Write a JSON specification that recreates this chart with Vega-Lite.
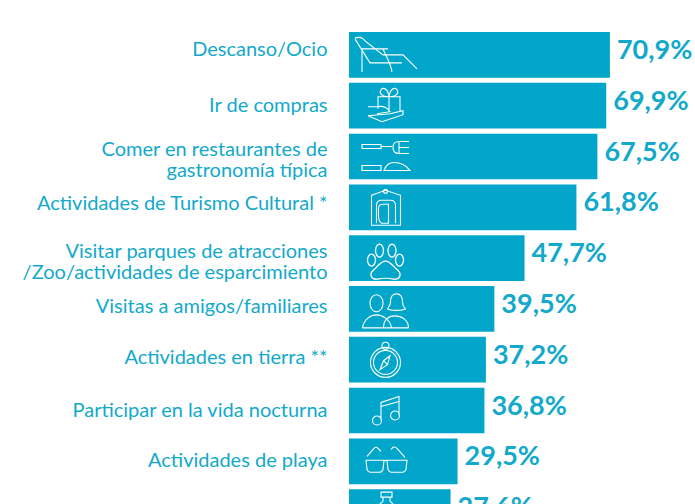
{"$schema":"https://vega.github.io/schema/vega-lite/v6.json","width":346,"height":508,"autosize":"none","padding":{"left":349,"top":29.5,"right":0,"bottom":0},"background":"white","view":{"stroke":null},
"datasets":{"rows":[
{"a":"Descanso/Ocio","v":70.9,"t":"70,9%"},
{"a":"Ir de compras","v":69.9,"t":"69,9%"},
{"a":"Comer en restaurantes de|gastronomía típica","v":67.5,"t":"67,5%"},
{"a":"Actividades de Turismo Cultural *","v":61.8,"t":"61,8%"},
{"a":"Visitar parques de atracciones|/Zoo/actividades de esparcimiento","v":47.7,"t":"47,7%"},
{"a":"Visitas a amigos/familiares","v":39.5,"t":"39,5%"},
{"a":"Actividades en tierra **","v":37.2,"t":"37,2%"},
{"a":"Participar en la vida nocturna","v":36.8,"t":"36,8%"},
{"a":"Actividades de playa","v":29.5,"t":"29,5%"},
{"a":"Otras actividades","v":27.6,"t":"27,6%"}]},
"data":{"name":"rows"},
"encoding":{"y":{"field":"a","type":"nominal","sort":null,"scale":{"paddingInner":0.1,"paddingOuter":0.05},"axis":{"title":null,"domain":false,"ticks":false,"labelPadding":22,"labelLimit":0,"labelFont":"Lato","labelFontSize":20,"labelLineHeight":21,"labelColor":"#12a9cb","labelOffset":{"condition":[{"test":"indexof(datum.value,'Descanso')>=0","value":-4.5},{"test":"indexof(datum.value,'Comer')>=0","value":-7},{"test":"indexof(datum.value,'Visitar')>=0","value":-6},{"test":"indexof(datum.value,'Turismo')>=0","value":-3},{"test":"indexof(datum.value,'Visitas')>=0","value":-2},{"test":"indexof(datum.value,'tierra')>=0","value":-2}],"value":0},"labelExpr":"split(datum.label,'|')"}}},
"layer":[
{"mark":{"type":"bar","color":"#01a6ca"},"encoding":{"x":{"field":"v","type":"quantitative","scale":{"domain":[0,94.02],"nice":false},"axis":null}}},
{"mark":{"type":"text","align":"left","baseline":"middle","dx":7,"dy":-4,"font":"Lato","fontWeight":"bold","fontSize":27,"color":"#12a9cb"},"encoding":{"x":{"field":"v","type":"quantitative"},"text":{"field":"t"}}},
{"transform":[{"filter":"datum.v==70.9"}],"mark":{"type":"point","filled":false,"stroke":"white","strokeWidth":1.1,"opacity":1,"size":4,"xOffset":36,"shape":"M-30,-16 L-15,8 L17,8 M-30,-17 Q-23,-19 -20,-14 L-2,0 L18,0 L32,14 M-23,-4.5 L-23,17 M-24,-6 L3,-6 M-2,-6 C3,5 6,10 7,17"},"encoding":{"x":{"datum":0}}},
{"transform":[{"filter":"datum.v==69.9"}],"mark":{"type":"point","filled":false,"stroke":"white","strokeWidth":1.1,"opacity":1,"size":4,"xOffset":36,"shape":"M-7,3 L-7,-9 L15,-9 L15,6 M4,-9 L4,6 M4,-9 C-4,-9 -6,-13 -4,-16 C-2,-19 3,-17 4,-9 C5,-17 10,-19 12,-16 C14,-13 12,-9 4,-9 M-17,1 L-8,1 C-3,0 2,1 5,6 L-8,8 M5,8 L18,5 L18,9 L-3,16 L-17,10 Z"},"encoding":{"x":{"datum":0}}},
{"transform":[{"filter":"datum.v==67.5"}],"mark":{"type":"point","filled":false,"stroke":"white","strokeWidth":1.1,"opacity":1,"size":4,"xOffset":36,"shape":"M-23,-12 L-4,-12 L-4,-8 L-23,-8 Z M-4,-10 L7,-10 M24,-15 L14,-15 Q8,-15 8,-9 Q8,-3 14,-3 L24,-3 M14,-15 L14,-3 M14,-9 L24,-9 M-23,9 L-4,9 L-4,14 L-23,14 Z M-1,14 C1,8 5,6 9,6 C17,6 22,10 25,14 Z"},"encoding":{"x":{"datum":0}}},
{"transform":[{"filter":"datum.v==61.8"}],"mark":{"type":"point","filled":false,"stroke":"white","strokeWidth":1.1,"opacity":1,"size":4,"xOffset":36.5,"shape":"M-14,-12 L0,-17 L15,-12 L15,18 L-14,18 Z M-2,-16 A2,2 0 1 1 2,-16 A2,2 0 1 1 -2,-16 M-9,16 L-9,-2 Q-9,-7 -4,-7 L5,-7 Q10,-7 10,-2 L10,16 M-7,1 Q-7,-3 -2,-3 L3,-3 L3,16 L-4,16 Q-7,14 -7,8 Z"},"encoding":{"x":{"datum":0}}},
{"transform":[{"filter":"datum.v==47.7"}],"mark":{"type":"point","filled":false,"stroke":"white","strokeWidth":1.3,"opacity":1,"size":4,"xOffset":36.5,"shape":"M-10,-7.5 A4,6.5 0 1 1 -2,-7.5 A4,6.5 0 1 1 -10,-7.5 Z M2.5,-7.5 A4,6.5 0 1 1 10.5,-7.5 A4,6.5 0 1 1 2.5,-7.5 Z M-18,2 A4,6 0 1 1 -10,2 A4,6 0 1 1 -18,2 Z M10,2 A4,6 0 1 1 18,2 A4,6 0 1 1 10,2 Z M0,3 C5,3 8,9 12,12 C17,16 14,22 8,21 C4,20 -4,20 -8,21 C-14,22 -17,16 -12,12 C-8,9 -5,3 0,3 Z"},"encoding":{"x":{"datum":0}}},
{"transform":[{"filter":"datum.v==39.5"}],"mark":{"type":"point","filled":false,"stroke":"white","strokeWidth":1.1,"opacity":1,"size":4,"xOffset":36.5,"shape":"M-15.5,-5.7 A6.5,8.5 0 1 1 -2.5,-5.7 A6.5,8.5 0 1 1 -15.5,-5.7 Z M11,-15 C6,-15 5,-11 5,-7 C5,-4 3,-2 2,0 C5,2 17,2 20,0 C18,-2 17,-4 17,-7 C17,-11 16,-15 11,-15 Z M-23,19 C-22,11 -15,6 -9,6 C-3,6 5,11 6,19 M-2,19 C-2,11 3,7 9,7 C16,7 23,11 23,19 M-23,19 L23,19"},"encoding":{"x":{"datum":0}}},
{"transform":[{"filter":"datum.v==37.2"}],"mark":{"type":"point","filled":false,"stroke":"white","strokeWidth":1.1,"opacity":1,"size":4,"xOffset":36.5,"shape":"M-15,2.7 A15,15 0 1 1 15,2.7 A15,15 0 1 1 -15,2.7 Z M-12,2.7 A12,12 0 1 1 12,2.7 A12,12 0 1 1 -12,2.7 Z M-3.5,-14 A3.5,3.5 0 1 1 3.5,-14 A3.5,3.5 0 1 1 -3.5,-14 Z M4.5,-4 L2,5 L-5.5,10 L-2,1 Z M2,5 L-2,1"},"encoding":{"x":{"datum":0}}},
{"transform":[{"filter":"datum.v==36.8"}],"mark":{"type":"point","filled":false,"stroke":"white","strokeWidth":1.1,"opacity":1,"size":4,"xOffset":36,"shape":"M-12.5,10 A4.5,4.5 0 1 1 -3.5,10 A4.5,4.5 0 1 1 -12.5,10 Z M5.5,5 A4.5,4.5 0 1 1 14.5,5 A4.5,4.5 0 1 1 5.5,5 Z M-4,10 L-4,-8 L14,-14 L14,5 M-4,-4 L14,-9"},"encoding":{"x":{"datum":0}}},
{"transform":[{"filter":"datum.v==29.5"}],"mark":{"type":"point","filled":false,"stroke":"white","strokeWidth":1.1,"opacity":1,"size":4,"xOffset":36,"shape":"M-19,-1 L-1,-1 L-2,8 Q-3,11 -6,11 L-13,11 Q-17,11 -18,8 Z M2,-1 L22,-1 L21,8 Q20,11 16,11 L8,11 Q4,11 3,8 Z M-1,0 Q1,-2 2,0 M-18,-5 L-11,-13 Q-9,-15 -7,-13 L-4,-10 M6,-12 L8,-14 Q10,-15 12,-13 L20,-4"},"encoding":{"x":{"datum":0}}},
{"transform":[{"filter":"datum.v==27.6"}],"mark":{"type":"point","filled":false,"stroke":"white","strokeWidth":1.1,"opacity":1,"size":4,"xOffset":37,"shape":"M-5,-20 L6,-20 L6,-15 L-5,-15 Z M-3,-15 L-3,-11 L-6,-8 L-6,10 L7,10 L7,-8 L4,-11 L4,-15"},"encoding":{"x":{"datum":0}}}
]}
